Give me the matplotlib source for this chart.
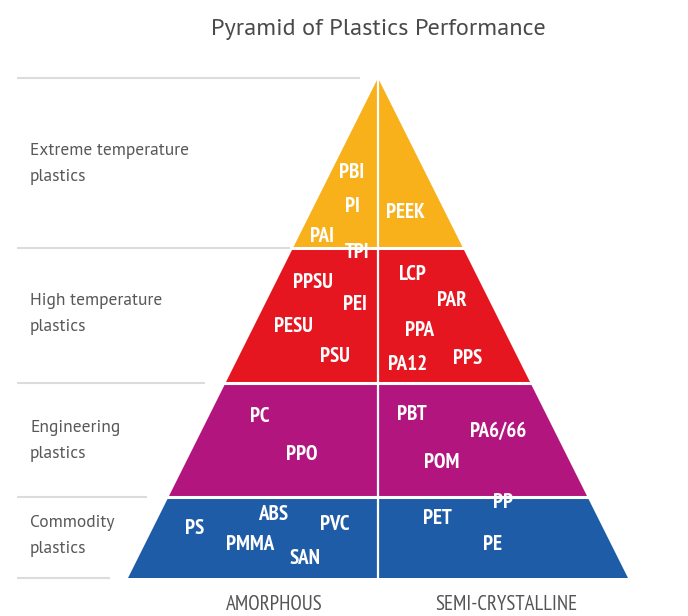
import matplotlib
matplotlib.use("Agg")
import matplotlib.pyplot as plt
from matplotlib.patches import Polygon

# ─────────────────────────────────────────────────────────────────────
# Data
# ─────────────────────────────────────────────────────────────────────

TITLE = "Pyramid of Plastics Performance"

tier_names = ["Extreme temperature\nplastics", "High temperature\nplastics",
              "Engineering\nplastics", "Commodity\nplastics"]
tier_colors = ["#F8B01B", "#E5161F", "#B3157F", "#1F5CA8"]
# tier boundaries (pixel rows from the top), apex first, base last
tier_edges = [78, 248, 383, 497, 578]
tier_label_y = [164, 314, 441, 536]
guide_line_end = [360, 290, 205, 147, 110]

columns = ["AMORPHOUS", "SEMI-CRYSTALLINE"]
column_x = [274, 506]

materials = ["PBI", "PI", "PAI", "TPI", "PEEK",
             "PPSU", "PEI", "PESU", "PSU", "LCP", "PAR", "PPA", "PA12", "PPS",
             "PC", "PPO", "PBT", "PA6/66", "POM",
             "PP", "PS", "ABS", "PVC", "PMMA", "SAN", "PET", "PE"]
material_x = [352, 352, 322, 357, 405,
              313, 355, 293, 335, 412, 452, 420, 408, 468,
              260, 302, 412, 498, 442,
              503, 195, 273, 335, 250, 305, 437, 492]
material_y = [173, 207, 237, 253, 213,
              283, 304, 327, 357, 275, 300, 330, 365, 358,
              417, 455, 415, 432, 463,
              502, 528, 515, 525, 545, 558, 518, 545]

APEX_X = 378
HALF_SLOPE = 0.5  # half-width grows 0.5 px per px down

GREY_FONT = ["PT Sans", "DejaVu Sans"]
LABEL_FONT = ["PT Sans Narrow", "DejaVu Sans"]
plt.rcParams["font.family"] = GREY_FONT


def half_width(y):
    return (y - tier_edges[0]) * HALF_SLOPE


fig = plt.figure(figsize=(6.88, 6.16), dpi=100)
ax = fig.add_axes([0, 0, 1, 1])
ax.set_xlim(0, 688)
ax.set_ylim(616, 0)
ax.axis("off")

# tiers
for i, color in enumerate(tier_colors):
    y0, y1 = tier_edges[i], tier_edges[i + 1]
    w0, w1 = half_width(y0), half_width(y1)
    poly = Polygon([(APEX_X - w0, y0), (APEX_X + w0, y0),
                    (APEX_X + w1, y1), (APEX_X - w1, y1)],
                   closed=True, facecolor=color, edgecolor="none", zorder=1)
    ax.add_patch(poly)

# white separators between tiers and down the middle
for y in tier_edges[1:-1]:
    w = half_width(y)
    ax.plot([APEX_X - w - 2, APEX_X + w + 2], [y, y], color="white", lw=2.2, zorder=2)
ax.plot([APEX_X, APEX_X], [tier_edges[0], tier_edges[-1]], color="white", lw=1.6, zorder=2)

# grey guide lines on the left
for y, xend in zip(tier_edges, guide_line_end):
    ax.plot([17, xend], [y, y], color="#DCDCDC", lw=1.5, zorder=0, solid_capstyle="butt")

# tier names
for name, y in zip(tier_names, tier_label_y):
    ax.text(30, y, name, ha="left", va="center", fontsize=12.5,
            color="#585858", linespacing=1.85)

# material labels
for m, x, y in zip(materials, material_x, material_y):
    ax.text(x, y, m, ha="center", va="center", fontsize=15,
            fontweight="bold", color="white", zorder=3, family=LABEL_FONT)

# column labels
for c, x in zip(columns, column_x):
    ax.text(x, 604, c, ha="center", va="center", fontsize=15, color="#555555",
            family=LABEL_FONT)

ax.text(378, 30, TITLE, ha="center", va="center", fontsize=17.5, color="#4A4A4A")

fig.savefig("out.png", dpi=100)
